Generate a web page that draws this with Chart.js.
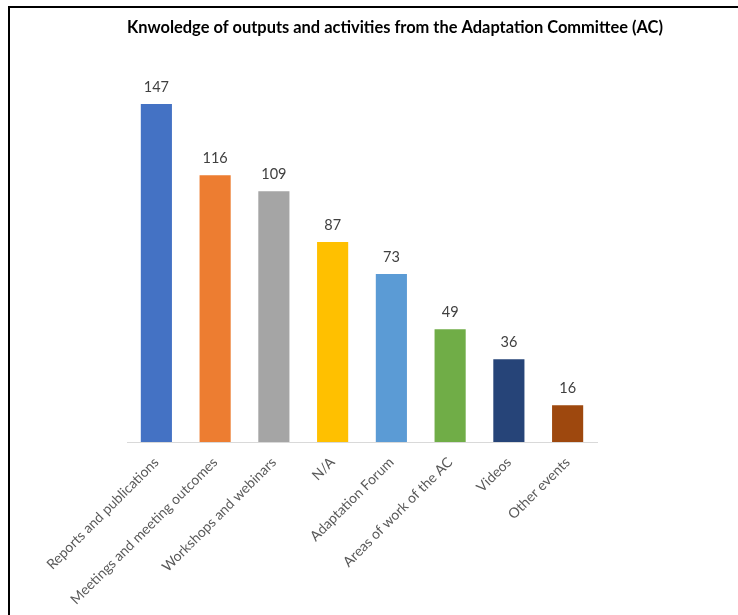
<!DOCTYPE html>
<html>
<head>
<meta charset="utf-8">
<script src="https://cdn.jsdelivr.net/npm/chart.js@4.4.1/dist/chart.umd.min.js"></script>
<style>
  html, body { margin: 0; padding: 0; background: #fff; overflow: hidden; }
  #frame {
    position: absolute; left: 8px; top: 6px; width: 780px; height: 609px;
    border-left: 2px solid #000; border-top: 2px solid #000;
  }
  #wrap { position: absolute; left: 0; top: 1px; width: 770px; height: 605px; }
</style>
</head>
<body>
<div id="frame"><div id="wrap"><canvas id="acChart"></canvas></div></div>
<script>
const categories = [
  'Reports and publications',
  'Meetings and meeting outcomes',
  'Workshops and webinars',
  'N/A',
  'Adaptation Forum',
  'Areas of work of the AC',
  'Videos',
  'Other events'
];
const counts = [147, 116, 109, 87, 73, 49, 36, 16];
const barColors = ['#4472C4', '#ED7D31', '#A5A5A5', '#FFC000', '#5B9BD5', '#70AD47', '#264478', '#9E480E'];

// value labels above each bar
const valueLabels = {
  id: 'valueLabels',
  afterDatasetsDraw(chart) {
    const ctx = chart.ctx;
    const meta = chart.getDatasetMeta(0);
    ctx.save();
    ctx.font = '14.5px Lato';
    ctx.fillStyle = '#404040';
    ctx.textAlign = 'center';
    ctx.textBaseline = 'middle';
    meta.data.forEach((bar, i) => {
      ctx.fillText(counts[i], bar.x, bar.y - 17);
    });
    ctx.restore();
  }
};

document.addEventListener('DOMContentLoaded', function() {
  const ctx = document.getElementById('acChart').getContext('2d');
  new Chart(ctx, {
    type: 'bar',
    data: {
      labels: categories,
      datasets: [{
        data: counts,
        backgroundColor: barColors,
        borderWidth: 0,
        categoryPercentage: 1,
        barPercentage: 0.53
      }]
    },
    options: {
      responsive: true,
      maintainAspectRatio: false,
      animation: false,
      layout: { padding: { left: 117, right: 117, top: 0, bottom: 0 } },
      scales: {
        y: {
          position: 'right',
          min: 0,
          max: 160,
          afterFit: function(scale) { scale.width = 66; },
          grid: { display: false },
          border: { display: false },
          ticks: { display: false }
        },
        x: {
          afterFit: function(scale) { scale.height = 172; },
          grid: { display: false },
          border: { display: true, color: '#D9D9D9', width: 1 },
          ticks: {
            color: '#595959',
            font: { family: 'Lato', size: 14 },
            minRotation: 45,
            maxRotation: 45,
            padding: 4
          }
        }
      },
      plugins: {
        legend: { display: false },
        tooltip: { enabled: false },
        title: {
          display: true,
          text: 'Knwoledge of outputs and activities from the Adaptation Committee (AC)',
          color: '#000',
          font: { family: 'Lato', size: 16.7, weight: 'bold' },
          padding: { top: 9, bottom: 36 }
        }
      }
    },
    plugins: [valueLabels]
  });
});
</script>
</body>
</html>
